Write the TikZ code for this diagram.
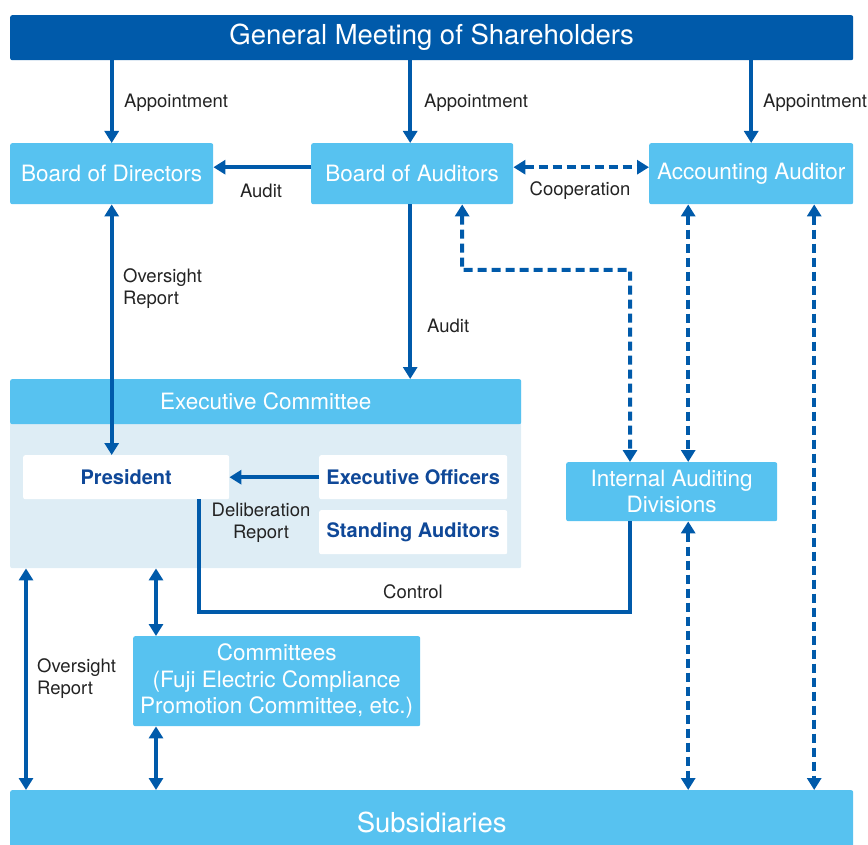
\documentclass[tikz,border=0pt]{standalone}
\usepackage{fontspec}
\setmainfont{TeX Gyre Heros}
\usetikzlibrary{arrows.meta}
\definecolor{gmsblue}{RGB}{0,90,170}
\definecolor{boxblue}{RGB}{87,194,240}
\definecolor{execbg}{RGB}{222,237,245}
\definecolor{namecol}{RGB}{15,72,152}
\definecolor{labcol}{RGB}{35,35,35}
\tikzset{
  tip/.tip={Triangle[width=14pt,length=12pt]},
  darkbox/.style={fill=gmsblue,text=white,rounded corners=2pt,inner sep=0pt,anchor=north west,font=\fontsize{27.5}{30}\selectfont},
  lightbox/.style={fill=boxblue,text=white,rounded corners=2pt,inner sep=0pt,anchor=north west,align=center,font=\fontsize{22.5}{26.5}\selectfont},
  whitebox/.style={fill=white,text=namecol,rounded corners=2pt,inner sep=0pt,anchor=north west,font=\fontsize{20}{24}\selectfont\bfseries},
  line/.style={draw=gmsblue,line width=4pt},
  dline/.style={line,dash pattern=on 9pt off 5pt},
  lab/.style={text=labcol,inner sep=0pt,font=\fontsize{18.5}{22}\selectfont}
}
\begin{document}
\begin{tikzpicture}[x=1pt,y=-1pt]
\useasboundingbox (0,0) rectangle (868,845);
% boxes
\node[darkbox,minimum width=843pt,minimum height=45pt] (gms) at (10,15) {General Meeting of Shareholders};
\node[lightbox,minimum width=203pt,minimum height=61pt] (bod) at (10,143) {Board of Directors};
\node[lightbox,minimum width=202pt,minimum height=61pt] (boa) at (311,143) {Board of Auditors};
\node[lightbox,minimum width=204pt,minimum height=61pt] (aa) at (649,143) {Accounting Auditor};
\node[fill=execbg,rounded corners=2pt,inner sep=0pt,anchor=north west,minimum width=511pt,minimum height=189pt] (exec) at (10,379) {};
\node[lightbox,minimum width=511pt,minimum height=45pt] (exechead) at (10,379) {Executive Committee};
\node[whitebox,minimum width=206pt,minimum height=44pt] (pres) at (23,455) {President};
\node[whitebox,minimum width=188pt,minimum height=44pt] (off) at (319,455) {Executive Officers};
\node[whitebox,minimum width=188pt,minimum height=44pt] (stand) at (319,510) {Standing Auditors};
\node[lightbox,minimum width=211pt,minimum height=59pt] (iad) at (566,462) {Internal Auditing\\Divisions};
\node[lightbox,minimum width=287pt,minimum height=90pt] (comm) at (133,636) {Committees\\(Fuji Electric Compliance\\Promotion Committee, etc.)};
\node[lightbox,minimum width=843pt,minimum height=65pt,font=\fontsize{27.5}{30}\selectfont] (subs) at (10,790) {Subsidiaries};
% bends
\coordinate (bend1) at (462,270);
\coordinate (bend2) at (630,270);
\coordinate (ctrl) at (630,612);
% appointment
\draw[line,-tip] (gms.south -| bod) -- (bod.north);
\draw[line,-tip] ([xshift=-2pt]gms.south -| boa) -- ([xshift=-2pt]boa.north);
\draw[line,-tip] (gms.south -| aa) -- (aa.north);
\node[lab,anchor=west] (app1) at (124,103) {Appointment};
\node[lab,anchor=west] (app2) at (424,103) {Appointment};
\node[lab,anchor=west] (app3) at (763,103) {Appointment};
% audit and cooperation
\draw[line,-tip] ([yshift=6.5pt]boa.west) -- ([yshift=6.5pt]bod.east);
\node[lab] (audit1) at (261,191) {Audit};
\draw[dline,tip-tip] ([yshift=6.5pt]boa.east) -- ([yshift=6.5pt]aa.west);
\node[lab] (coop) at (580,191) {Cooperation};
\draw[line,-tip] ([xshift=-2pt]boa.south) -- ([xshift=-2pt]boa.south |- exec.north);
\node[lab,anchor=west] (audit2) at (427,326) {Audit};
% oversight
\draw[line,tip-tip] (bod.south) -- (bod.south |- pres.north);
\node[lab,anchor=west,align=left] (over1) at (123,289) {Oversight\\Report};
\draw[line,-tip] (off.west) -- (pres.east);
\node[lab,align=center] (delib) at (261,523) {Deliberation\\Report};
% internal auditing
\draw[dline,tip-tip] ([xshift=50pt]boa.south) -- (bend1) -- (bend2) -- (bend2 |- iad.north);
\draw[dline,tip-tip] ([xshift=-63pt]aa.south) -- ([xshift=-63pt]aa.south |- iad.north);
\draw[dline,tip-tip] ([xshift=-63pt]aa.south |- iad.south) -- ([xshift=-63pt]aa.south |- subs.north);
\draw[dline,tip-tip] ([xshift=63pt]aa.south) -- ([xshift=63pt]aa.south |- subs.north);
% control
\draw[line] ([xshift=73pt]pres.south) |- (ctrl) -- (ctrl |- iad.south);
\node[lab] (control) at (413,592) {Control};
% subsidiaries
\draw[line,tip-tip] ([xshift=16pt]exec.south west) -- ([xshift=16pt]exec.south west |- subs.north);
\node[lab,anchor=west,align=left] (over2) at (37,679) {Oversight\\Report};
\draw[line,tip-tip] ([xshift=23pt]comm.north west |- exec.south) -- ([xshift=23pt]comm.north west);
\draw[line,tip-tip] ([xshift=23pt]comm.south west) -- ([xshift=23pt]comm.south west |- subs.north);
\end{tikzpicture}
\end{document}
